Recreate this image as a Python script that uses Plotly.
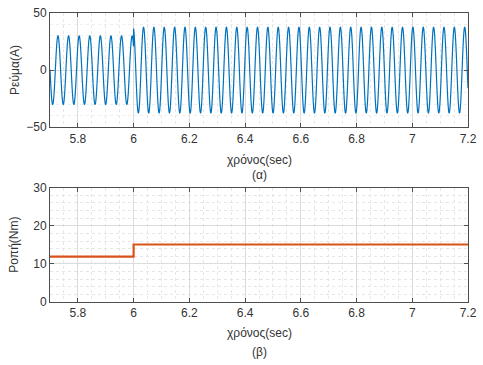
import numpy as np
import plotly.graph_objects as go
from plotly.subplots import make_subplots

# ---- data ----
t_range = [5.7, 7.2]
step_time = 6.0
# current: segment amplitudes (A), frequencies (Hz), time of one peak per segment (s)
cur_amp = [30.0, 37.5]
cur_freq = [26.3, 26.9]
cur_peak = [5.7286, 6.0357]
# torque levels (Nm) before / after step
torque_level = [11.9, 15.1]

x_ticks = [5.8, 6.0, 6.2, 6.4, 6.6, 6.8, 7.0, 7.2]
x_tick_text = ["5.8", "6", "6.2", "6.4", "6.6", "6.8", "7", "7.2"]
y1_ticks = [-50, 0, 50]
y2_ticks = [0, 10, 20, 30]

# ---- build traces ----
t = np.linspace(t_range[0], t_range[1], 4001)
seg = (t >= step_time).astype(int)
amp = np.array(cur_amp)[seg]
freq = np.array(cur_freq)[seg]
tp = np.array(cur_peak)[seg]
current = amp * np.cos(2 * np.pi * freq * (t - tp))

t_tq = [t_range[0], step_time, step_time, t_range[1]]
tq = [torque_level[0], torque_level[0], torque_level[1], torque_level[1]]

fig = make_subplots(rows=2, cols=1, vertical_spacing=0.2)
fig.add_trace(go.Scatter(x=t, y=current, mode="lines",
                         line=dict(color="#0072BD", width=1.2, simplify=False)), row=1, col=1)
fig.add_trace(go.Scatter(x=t_tq, y=tq, mode="lines",
                         line=dict(color="#D95319", width=2.2)), row=2, col=1)

axis_common = dict(
    showline=True, linecolor="#4d4d4d", linewidth=1, mirror="ticks",
    ticks="inside", ticklen=4, tickcolor="#4d4d4d",
    showgrid=True, gridcolor="#dcdcdc", gridwidth=1, zeroline=False,
    tickfont=dict(family="Liberation Sans, Arial", size=12, color="#333333"),
)
xa = dict(axis_common, range=t_range, tickvals=x_ticks, ticktext=x_tick_text,
          minor=dict(dtick=0.05, tick0=5.7, showgrid=True, gridcolor="#e6e6e6",
                     griddash="dot", ticks=""))
fig.update_xaxes(**xa)
fig.update_yaxes(axis_common)
fig.update_yaxes(range=[-50, 50], tickvals=y1_ticks,
                 minor=dict(dtick=10, showgrid=True, gridcolor="#eeeeee",
                            griddash="dot", ticks=""), row=1, col=1)
fig.update_yaxes(range=[0, 30], tickvals=y2_ticks,
                 minor=dict(dtick=2, showgrid=True, gridcolor="#e6e6e6",
                            griddash="dot", ticks=""), row=2, col=1)

fig.update_layout(
    width=483, height=365, showlegend=False,
    paper_bgcolor="white", plot_bgcolor="white",
    margin=dict(l=50, r=12, t=6, b=63),
    xaxis=dict(domain=[0, 1]), yaxis=dict(domain=[0.6047, 1.0]),
    xaxis2=dict(domain=[0, 1]), yaxis2=dict(domain=[0.0, 0.3953]),
)

fnt = dict(family="Liberation Sans, Arial", size=12, color="#333333")
ann = [
    ("χρόνος(sec)", 157),
    ("(α)", 172),
    ("χρόνος(sec)", 334),
    ("(β)", 353),
]
for text, ypx in ann:
    fig.add_annotation(text=text, x=0.5, y=(302 - ypx) / 296, xref="paper", yref="paper",
                       showarrow=False, font=fnt, xanchor="center", yanchor="middle")
for text, ypx in [("Ρεύμα(A)", 64), ("Ροπή(Nm)", 243)]:
    fig.add_annotation(text=text, x=(14 - 50) / 421, y=(302 - ypx) / 296,
                       xref="paper", yref="paper", showarrow=False, font=fnt,
                       textangle=-90, xanchor="center", yanchor="middle")

fig.write_html("out.html", config={"displayModeBar": False},
               post_script="document.body.style.margin='0';document.body.style.overflow='hidden';")
